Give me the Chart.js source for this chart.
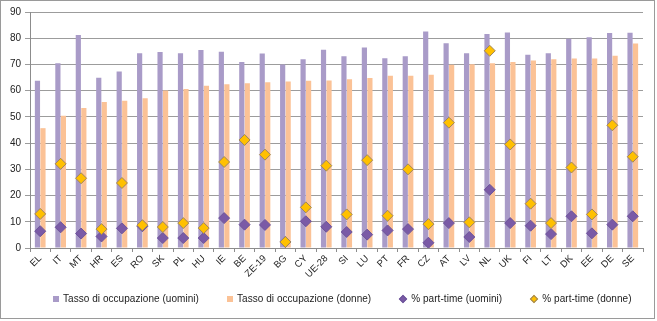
<!DOCTYPE html>
<html>
<head>
<meta charset="utf-8">
<script src="https://cdn.jsdelivr.net/npm/chart.js@4.4.1/dist/chart.umd.min.js"></script>
<style>
html,body{margin:0;padding:0;background:#fff;}
#wrap{width:657px;height:321px;position:relative;overflow:hidden;}
#c{position:absolute;left:0;top:0;}
#legend{position:absolute;left:53px;top:293px;display:flex;gap:28px;align-items:center;
  font-family:'Liberation Sans',Arial,sans-serif;font-size:10px;letter-spacing:0.05px;color:#222;white-space:nowrap;}
.item{display:flex;align-items:center;}
.sq{width:6px;height:6px;margin-right:4px;}
.dm{width:6px;height:6px;transform:rotate(45deg);margin:0 5px 0 1px;box-sizing:border-box;border:1px solid;}
</style>
</head>
<body>
<div id="wrap"><canvas id="c" width="657" height="321"></canvas><div id="legend"></div></div>
<script>
const categories = ['EL','IT','MT','HR','ES','RO','SK','PL','HU','IE','BE','ZE-19','BG','CY','UE-28','SI','LU','PT','FR','CZ','AT','LV','NL','UK','FI','LT','DK','EE','DE','SE'];
const menEmployment = [63.8,70.5,81.2,64.9,67.3,74.3,74.7,74.3,75.5,74.8,70.9,74.2,70.0,72.0,75.6,73.1,76.5,72.4,73.1,82.6,78.1,74.3,81.6,82.2,73.7,74.3,79.8,80.4,82.0,82.1];
const womenEmployment = [45.7,50.4,53.4,55.7,56.2,57.1,60.1,60.6,61.9,62.4,62.8,63.2,63.5,63.8,63.9,64.4,64.8,65.7,65.7,66.1,69.9,70.1,70.5,70.9,71.5,72.0,72.3,72.3,73.3,78.0];
const menPartTime = [6.4,7.9,5.5,4.4,7.5,8.3,3.8,3.8,3.8,11.4,8.9,8.8,2.3,10.2,8.1,6.1,5.1,6.7,7.2,2.0,9.5,4.2,22.2,9.5,8.5,5.3,12.1,5.6,8.9,12.1];
const womenPartTime = [13.0,32.1,26.6,7.2,24.8,8.7,8.0,9.5,7.6,32.8,41.2,35.6,2.3,15.5,31.4,12.8,33.5,12.3,30.0,9.1,47.8,9.8,75.2,39.5,16.9,9.5,30.7,12.8,46.8,34.8];
const seriesLabels = ['Tasso di occupazione (uomini)','Tasso di occupazione (donne)','% part-time (uomini)','% part-time (donne)'];
const yTicks = [0,10,20,30,40,50,60,70,80,90];

const FONT = "'Liberation Sans', Arial, sans-serif";

const borderPlugin = {
  id: 'outerBorder',
  afterDraw(chart) {
    const ctx = chart.ctx;
    ctx.save();
    ctx.strokeStyle = '#9a9a9a';
    ctx.lineWidth = 1;
    ctx.strokeRect(0.5, 0.5, 654, 318);
    ctx.restore();
  }
};

const datasets = [
  { type: 'bar', label: seriesLabels[0], data: menEmployment, backgroundColor: '#a99bc8', order: 2,
    categoryPercentage: 0.54, barPercentage: 0.94 },
  { type: 'bar', label: seriesLabels[1], data: womenEmployment, backgroundColor: '#fbc296', order: 2,
    categoryPercentage: 0.54, barPercentage: 0.94 },
  { type: 'line', label: seriesLabels[2], data: menPartTime, showLine: false, pointStyle: 'rectRot',
    pointRadius: 5.5, pointBackgroundColor: '#7a5aa6', pointBorderColor: '#6d559a', pointBorderWidth: 1,
    backgroundColor: '#7a5aa6', borderColor: '#6d559a', order: 1 },
  { type: 'line', label: seriesLabels[3], data: womenPartTime, showLine: false, pointStyle: 'rectRot',
    pointRadius: 5.5, pointBackgroundColor: '#ffc000', pointBorderColor: '#9c8560', pointBorderWidth: 1,
    backgroundColor: '#ffc000', borderColor: '#9c8560', order: 0 }
];

new Chart(document.getElementById('c'), {
  data: { labels: categories, datasets: datasets },
  options: {
    responsive: false,
    animation: false,
    devicePixelRatio: 1,
    layout: { padding: { left: 0, right: 14, top: 12, bottom: 35 } },
    plugins: {
      tooltip: { enabled: false },
      legend: { display: false }
    },
    scales: {
      x: {
        offset: true,
        afterFit(s) { s.height = 38; },
        grid: { drawOnChartArea: false, drawTicks: true, tickLength: 4, color: '#8c8c8c', offset: true },
        border: { color: '#8c8c8c' },
        ticks: { autoSkip: false, minRotation: 45, maxRotation: 45, padding: 1, color: '#222',
                 font: { family: FONT, size: 9.5 } }
      },
      y: {
        min: 0, max: 90,
        afterFit(s) { s.width = 30; },
        afterBuildTicks(s) { s.ticks = yTicks.map(v => ({ value: v })); },
        grid: { color: '#9c9c9c', tickLength: 5, drawTicks: true },
        border: { color: '#8c8c8c' },
        ticks: { padding: 4, color: '#222', font: { family: FONT, size: 10 } }
      }
    }
  },
  plugins: [borderPlugin]
});

// HTML legend built from the datasets
const legend = document.getElementById('legend');
datasets.forEach(ds => {
  const item = document.createElement('div');
  item.className = 'item';
  const mk = document.createElement('span');
  if (ds.type === 'bar') {
    mk.className = 'sq';
    mk.style.background = ds.backgroundColor;
  } else {
    mk.className = 'dm';
    mk.style.background = ds.pointBackgroundColor;
    mk.style.borderColor = ds.pointBorderColor;
  }
  const tx = document.createElement('span');
  tx.textContent = ds.label;
  item.appendChild(mk);
  item.appendChild(tx);
  legend.appendChild(item);
});
</script>
</body>
</html>
